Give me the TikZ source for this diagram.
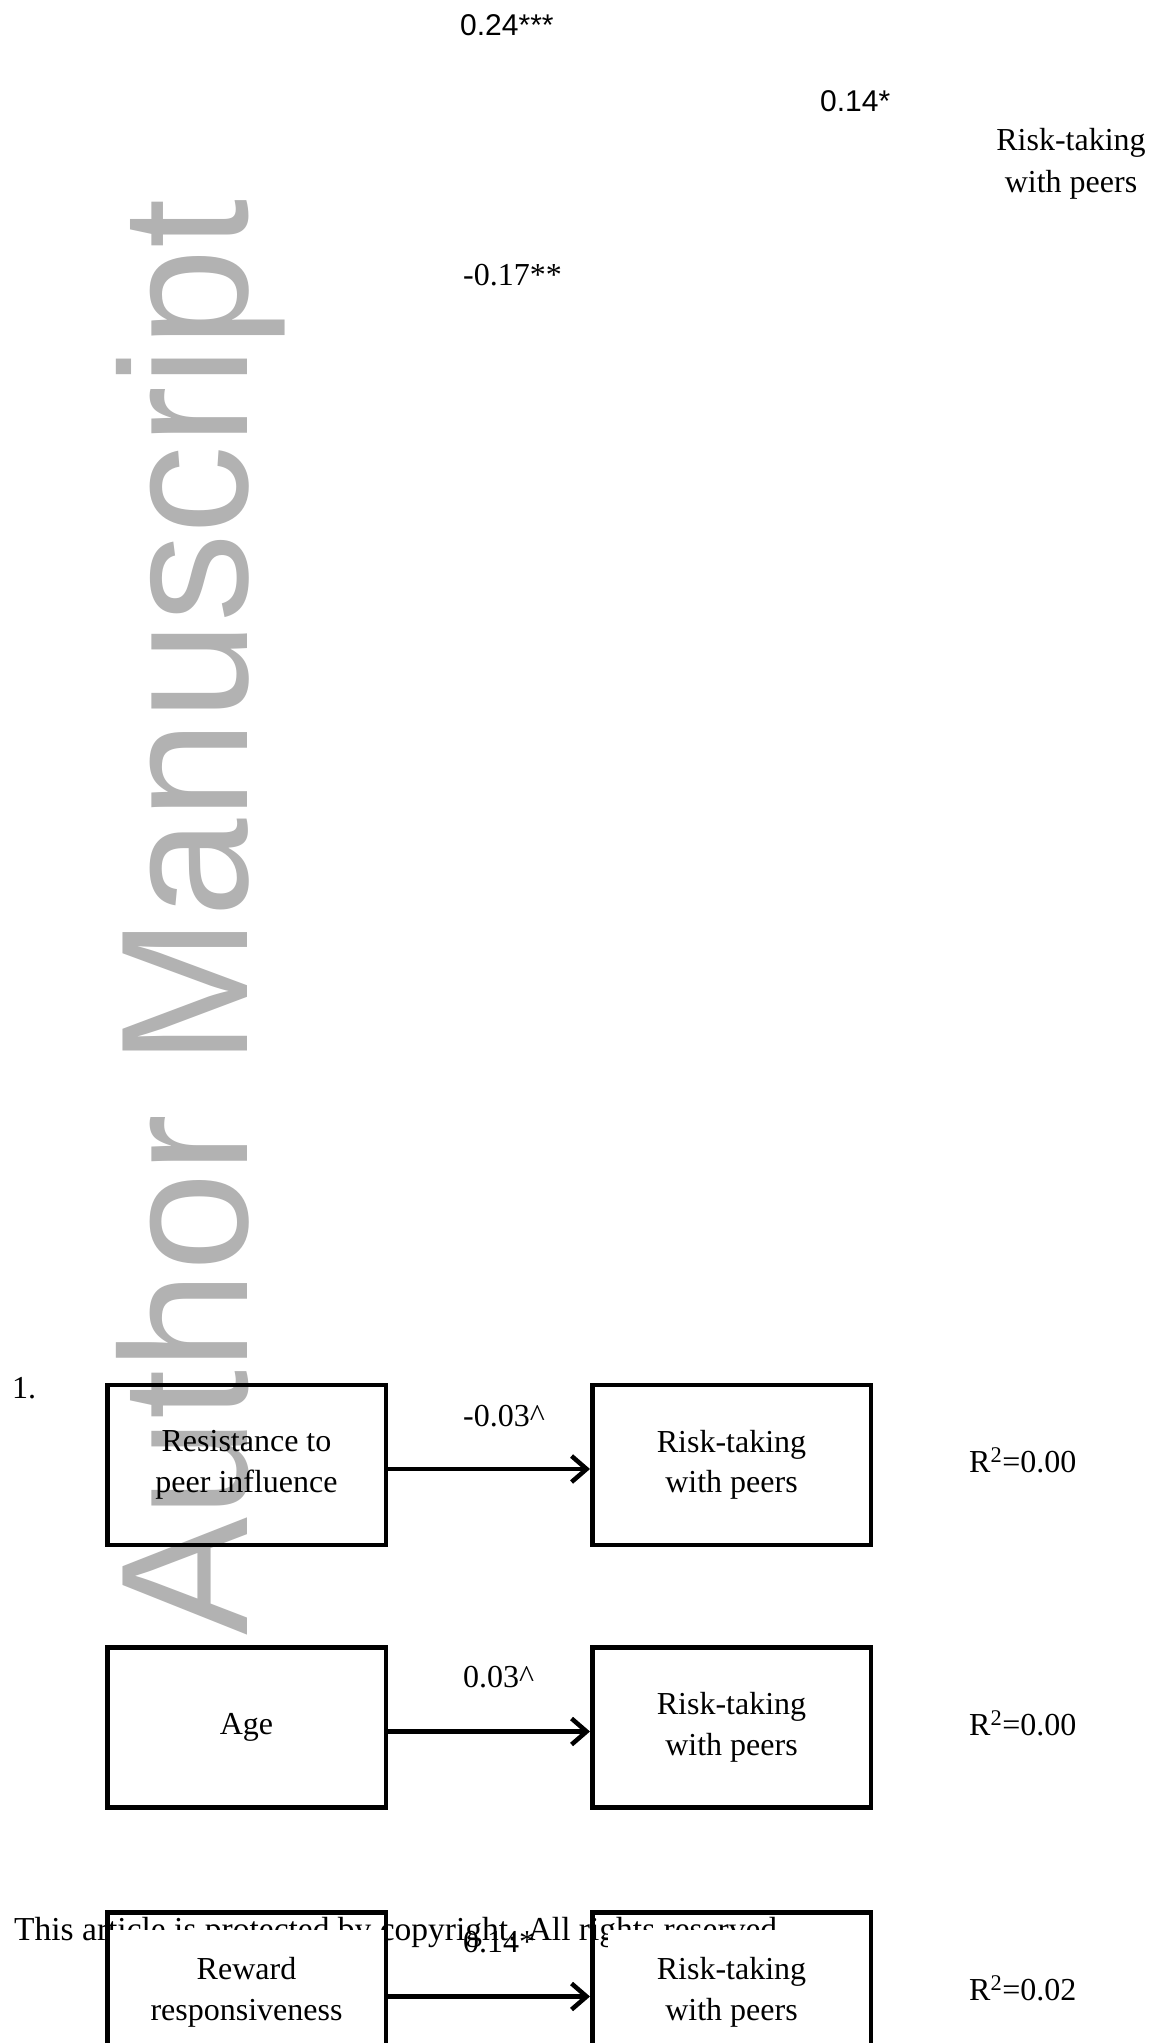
\documentclass[tikz,border=0pt]{standalone}
\usepackage{fontspec}
\setmainfont{Liberation Serif}
\newfontfamily\arialf{Liberation Sans}
\usetikzlibrary{arrows.meta}
\definecolor{wmgray}{RGB}{178,178,178}
\tikzset{
  x=1pt,y=-1pt,
  boxnode/.style={draw=black,line width=4.5pt,minimum width=278.5pt,minimum height=160pt,inner sep=0pt,align=center,font=\fontsize{32}{40.5}\selectfont},
  serifl/.style={inner sep=0pt,anchor=base west,font=\fontsize{32}{40}\selectfont},
  sansl/.style={inner sep=0pt,anchor=base west,font=\arialf\fontsize{30}{36}\selectfont},
  arr/.style={line width=4.5pt,-{Straight Barb[length=15pt,width=26pt]}},
}
\begin{document}
\begin{tikzpicture}
\useasboundingbox (0,0) rectangle (1149,2043);
\clip (0,0) rectangle (1149,2043);
\fill[white] (0,0) rectangle (1149,2043);
% watermark
\node[inner sep=0pt,anchor=base west,rotate=90,text=wmgray,font=\arialf\fontsize{181}{181}\selectfont] (wm) at (247,1636) {\scalebox{0.978}[1]{Author Manuscript}};
% footer
\node[serifl,font=\fontsize{33.5}{40}\selectfont] (foot) at (14,1940) {This article is protected by copyright. All rights reserved};
% top remnants
\node[sansl] (t1) at (460,35) {0.24***};
\node[sansl] (t2) at (820,111) {0.14*};
\node[inner sep=0pt,align=center,anchor=base,font=\fontsize{32}{42}\selectfont] (t3) at (1071,192) {Risk-taking\\with peers};
\node[serifl] (t4) at (463,285) {-0.17**};
% panel 1
\node[serifl] (n1) at (12,1398) {1.};
\node[boxnode] (b1) at (246.5,1465) {Resistance to\\peer influence};
\node[boxnode] (r1) at (731.5,1465) {Risk-taking\\with peers};
\draw[arr] ([yshift=-4pt]b1.east) -- ([yshift=-4pt]r1.west);
\node[serifl] (l1) at (463,1426) {-0.03\textasciicircum};
\node[serifl] (q1) at (969,1472) {R\textsuperscript{2}=0.00};
% panel 2
\node[boxnode] (b2) at (246.5,1727.5) {Age};
\node[boxnode] (r2) at (731.5,1727.5) {Risk-taking\\with peers};
\draw[arr] ([yshift=-4pt]b2.east) -- ([yshift=-4pt]r2.west);
\node[serifl] (l2) at (463,1687) {0.03\textasciicircum};
\node[serifl] (q2) at (969,1735) {R\textsuperscript{2}=0.00};
% panel 3
\coordinate (w3a) at (107.5,1930);
\coordinate (w3b) at (384.5,2043);
\coordinate (w3c) at (608,1930);
\coordinate (w3d) at (869.5,2043);
\fill[white] (w3a) rectangle (w3b);
\fill[white] (w3c) rectangle (w3d);
\node[boxnode] (b3) at (246.5,1992.5) {Reward\\responsiveness};
\node[boxnode] (r3) at (731.5,1992.5) {Risk-taking\\with peers};
\draw[arr] ([yshift=-4pt]b3.east) -- ([yshift=-4pt]r3.west);
\node[serifl] (l3) at (463,1952) {0.14*};
\node[serifl] (q3) at (969,2000) {R\textsuperscript{2}=0.02};
\end{tikzpicture}
\end{document}
